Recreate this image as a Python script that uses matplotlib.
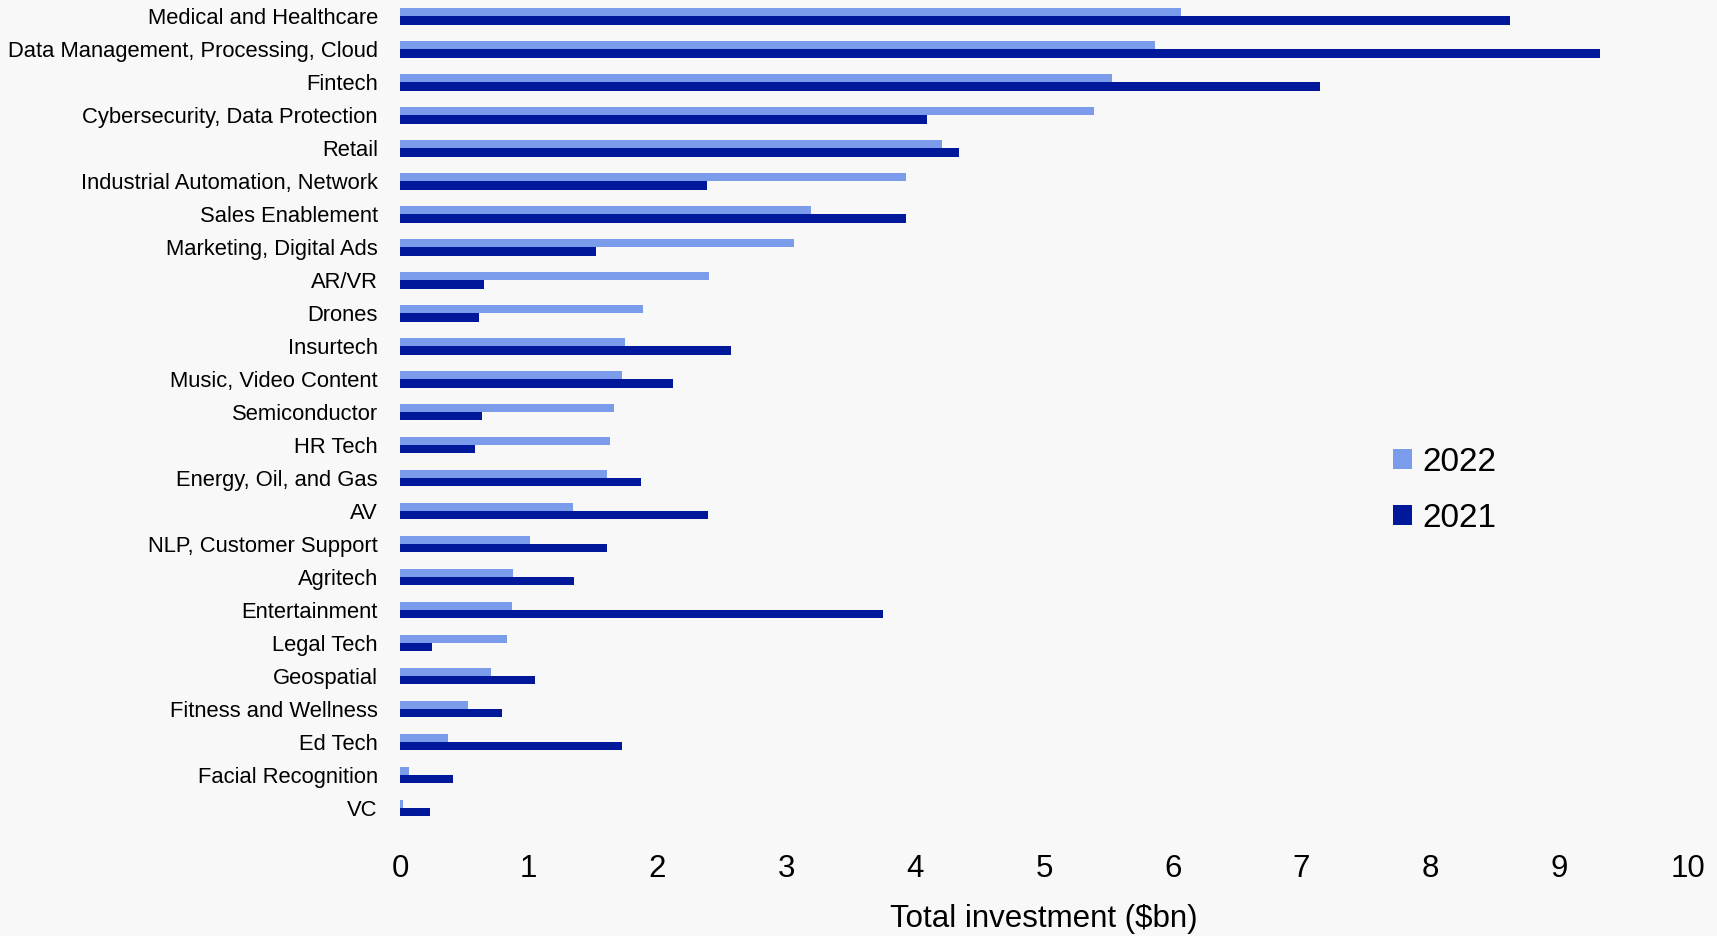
import numpy as np
import matplotlib
matplotlib.use("Agg")
import matplotlib.pyplot as plt

plt.rcParams['font.family'] = ['Liberation Sans', 'DejaVu Sans']

categories = [
    "Medical and Healthcare", "Data Management, Processing, Cloud", "Fintech",
    "Cybersecurity, Data Protection", "Retail", "Industrial Automation, Network",
    "Sales Enablement", "Marketing, Digital Ads", "AR/VR", "Drones", "Insurtech",
    "Music, Video Content", "Semiconductor", "HR Tech", "Energy, Oil, and Gas",
    "AV", "NLP, Customer Support", "Agritech", "Entertainment", "Legal Tech",
    "Geospatial", "Fitness and Wellness", "Ed Tech", "Facial Recognition", "VC",
]
inv_2022 = [6.06, 5.86, 5.53, 5.39, 4.21, 3.93, 3.19, 3.06, 2.40, 1.89, 1.75,
            1.72, 1.66, 1.63, 1.61, 1.34, 1.01, 0.88, 0.87, 0.83, 0.71, 0.53,
            0.37, 0.07, 0.02]
inv_2021 = [8.62, 9.32, 7.14, 4.09, 4.34, 2.38, 3.93, 1.52, 0.65, 0.61, 2.57,
            2.12, 0.64, 0.58, 1.87, 2.39, 1.61, 1.35, 3.75, 0.25, 1.05, 0.79,
            1.72, 0.41, 0.23]
xticks = list(range(0, 11))

bg = "#f8f8f8"
c22 = "#7a9cea"
c21 = "#001899"

fig = plt.figure(figsize=(17.17, 9.36), dpi=100, facecolor=bg)
ax = fig.add_axes([400 / 1717, 1 - 824.5 / 936, (1688 - 400) / 1717, 824.5 / 936])
ax.set_facecolor(bg)

y = np.arange(len(categories))
h = 0.25
ax.barh(y - h / 2, inv_2022, height=h, color=c22, label="2022")
ax.barh(y + h / 2, inv_2021, height=h, color=c21, label="2021")

ax.set_ylim(len(categories) - 0.5, -0.5)
ax.set_xlim(0, 10)
ax.set_yticks(y)
ax.set_yticklabels(categories, fontsize=15.8)
ax.set_xticks(xticks)
ax.set_xticklabels([str(t) for t in xticks], fontsize=22.5)
ax.tick_params(axis='y', length=0, pad=16)
ax.tick_params(axis='x', length=0, pad=21)
for s in ax.spines.values():
    s.set_visible(False)
ax.set_xlabel("Total investment ($bn)", fontsize=22.5, labelpad=15)

ax.legend(loc='upper left', bbox_to_anchor=(1393 / 1717, 1 - 447 / 936),
          bbox_transform=fig.transFigure, frameon=False, fontsize=24,
          handlelength=0.57, handleheight=0.57, handletextpad=0.3,
          labelspacing=0.75, borderpad=0, borderaxespad=0)

fig.savefig("out.png", dpi=100, facecolor=bg)
